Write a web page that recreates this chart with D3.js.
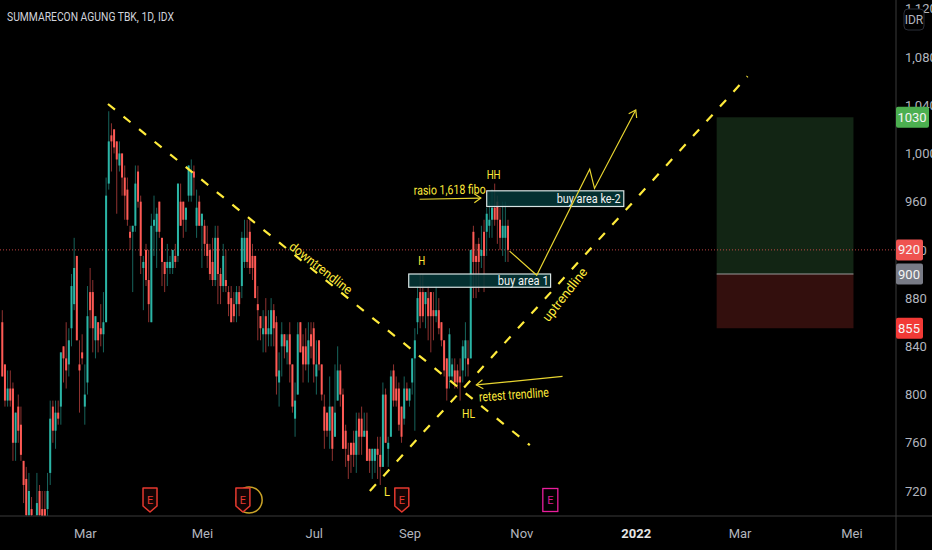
<!DOCTYPE html>
<html>
<head>
<meta charset="utf-8">
<script src="https://cdn.jsdelivr.net/npm/d3@7"></script>
<style>
  html, body { margin: 0; padding: 0; background: #000; }
  svg { display: block; }
  text { font-family: "Liberation Sans Narrow", "Roboto", sans-serif; }
</style>
</head>
<body>
<svg id="chart" width="932" height="550"></svg>
<script>
// daily candles (IDR)
const opens = [
  860,825,795,805,805,760,790,775,745,730, 700,705,690,700,720,705,705,705,735,790,
  770,785,790,840,830,825,855,875,915,825, 835,790,810,885,885,845,860,855,850,860,
  975,1015,1020,1010,990,1000,980,970,935,935, 940,985,960,905,920,895,860,940,935,960,
  930,910,905,905,905,915,915,960,960,945, 965,965,985,940,960,940,940,925,920,910,
  895,930,900,890,895,885,880,875,875,885, 890,910,930,935,915,915,875,865,850,865,
  850,850,870,860,810,840,850,835,850,825, 780,800,860,840,840,825,850,855,815,845,
  825,790,785,770,790,765,795,820,800,770, 750,760,760,750,780,780,765,770,755,745,
  745,755,750,740,800,755,765,820,805,805, 790,780,805,795,810,830,860,885,885,875,
  880,885,870,865,870,860,845,830,815,815, 820,820,815,820,830,830,830,935,915,925,
  915,935,935,940,945,955,960,945,930,930,940
];
const closes = [
  815,795,805,795,760,785,770,750,725,700, 720,700,685,710,700,695,695,720,780,770,
  785,780,835,830,820,845,890,905,845,820, 830,800,865,870,855,865,845,850,860,965,
  1010,1010,1005,995,1000,980,965,945,930,940, 975,960,915,910,895,875,940,945,950,935,
  910,900,910,910,920,910,975,940,945,955, 990,985,980,955,940,950,925,915,900,895,
  930,900,890,915,890,875,860,865,885,875, 930,930,910,905,905,880,870,855,855,850,
  855,870,855,815,820,850,840,845,825,790, 795,850,835,825,825,845,840,825,825,825,
  800,770,770,790,755,785,820,800,755,755, 745,750,750,770,765,765,770,745,745,755,
  755,750,740,800,760,760,815,795,795,775, 765,805,795,805,830,845,880,865,865,885,
  865,865,865,870,855,845,820,805,850,825, 810,810,810,840,845,825,920,910,910,910,
  920,915,950,945,955,945,945,930,940,940,920
];
const highs = [
  870,825,820,820,810,785,800,790,745,740, 735,715,695,735,725,720,720,735,795,795,
  795,795,835,840,860,855,900,930,915,845, 850,825,890,905,895,865,860,875,885,980,
  1035,1025,1020,1010,1010,1000,990,980,940,940, 990,990,965,915,925,920,950,965,955,960,
  930,910,925,915,920,925,975,975,960,955, 990,995,990,970,965,950,945,940,925,930,
  940,940,905,925,920,890,890,885,890,890, 935,945,945,945,925,915,890,865,870,880,
  870,880,875,865,835,860,850,850,860,825, 810,860,860,850,855,860,860,860,845,845,
  825,800,785,815,790,825,840,825,805,775, 760,760,770,785,785,790,785,785,755,755,
  755,765,765,810,805,765,820,825,815,810, 790,815,810,805,830,855,890,900,900,885,
  890,885,885,890,880,860,845,830,855,830, 830,825,830,845,860,845,920,940,925,930,
  940,945,955,960,970,975,965,955,960,960,945
];
const lows = [
  815,790,790,790,745,745,760,745,710,695, 695,695,680,690,690,690,690,695,725,760,
  755,775,775,810,805,815,840,870,845,785, 825,775,800,855,835,830,835,840,835,860,
  970,985,1000,950,985,965,945,940,920,885, 935,955,900,870,890,860,860,915,905,930,
  890,885,890,900,900,905,910,940,930,935, 960,960,965,930,940,905,915,905,895,890,
  890,875,875,885,885,865,860,860,860,865, 880,905,905,900,895,880,845,845,835,835,
  840,840,840,800,790,815,830,825,810,785, 765,800,835,810,820,810,830,810,800,820,
  795,755,765,755,745,765,795,790,755,740, 730,735,740,735,750,750,765,745,735,730,
  735,730,725,740,760,740,765,790,790,770, 760,775,795,790,800,770,850,855,860,855,
  845,835,845,860,850,840,815,795,805,810, 805,805,795,810,815,815,830,880,880,885,
  905,885,915,930,930,940,925,920,915,910,910
];

const priceTicks = [1120, 1080, 1040, 1000, 960, 920, 880, 840, 800, 760, 720];
const timeTickBars = [31, 75, 117, 153, 195, 238, 277, 319];
const timeTickLabels = ['Mar', 'Mei', 'Jul', 'Sep', 'Nov', '2022', 'Mar', 'Mei'];

const lastPrice = 920;
const entryPrice = 900;
const targetPrice = 1030;
const stopPrice = 855;

// drawings, as [bar, price]
const downtrend = [[39.7, 1041], [198.2, 758]];
const uptrend = [[138.1, 720], [280, 1064]];
const projection = [[190.6, 919], [200.8, 899], [220.7, 987], [222.5, 971], [238, 1036]];
const fiboArrow = [[156.8, 962], [179.8, 963]];
const retestArrow = [[210.5, 815], [178.1, 808]];
const positionBars = [268.4, 319.8];
const buyAreas = [
  { name: 'buy area 1', from: 152.7, to: 206, top: 900, bottom: 889, textBar: 195.7, textWidth: 51 },
  { name: 'buy area ke-2', from: 182, to: 233.5, top: 969, bottom: 956, textBar: 220.3, textWidth: 64 }
];
const notes = [
  { text: 'H', bar: 157.6, price: 911, angle: 0, width: 7 },
  { text: 'HH', bar: 184.6, price: 983, angle: 0, width: 14 },
  { text: 'HL', bar: 175.2, price: 784, angle: 0, width: 13 },
  { text: 'L', bar: 144.5, price: 720, angle: 0, width: 6 },
  { text: 'rasio 1,618 fibo', bar: 168.1, price: 970, angle: -1, width: 72 },
  { text: 'retest trendline', bar: 192.2, price: 800, angle: -4, width: 70 },
  { text: 'downtrendline', bar: 119.7, price: 905, angle: 38, width: 76 },
  { text: 'uptrendline', bar: 211.3, price: 883, angle: -52, width: 64 }
];
const earningsBars = [55.5, 90.4, 150.1];
const nextEarningsBar = 205.9;
const dividendBar = 92;

const WIDTH = 932, HEIGHT = 550;
const PANE_W = 896, PANE_H = 516;
const YELLOW = '#ffeb3b', TEAL = '#26a69a', RED = '#ef5350', AXIS = '#b2b5be';

const x = d3.scaleLinear().domain([0, 190]).range([2.3, 508]);
const y = d3.scaleLinear().domain([720, 1080]).range([491, 57]);

const svg = d3.select('#chart');
svg.append('rect').attr('width', WIDTH).attr('height', HEIGHT).attr('fill', '#000');
svg.append('defs').append('clipPath').attr('id', 'pane')
  .append('rect').attr('width', PANE_W).attr('height', PANE_H);

const pane = svg.append('g').attr('clip-path', 'url(#pane)');

// long position box
pane.append('rect')
  .attr('x', x(positionBars[0])).attr('width', x(positionBars[1]) - x(positionBars[0]))
  .attr('y', y(targetPrice)).attr('height', y(entryPrice) - y(targetPrice))
  .attr('fill', '#122514');
pane.append('rect')
  .attr('x', x(positionBars[0])).attr('width', x(positionBars[1]) - x(positionBars[0]))
  .attr('y', y(entryPrice)).attr('height', y(stopPrice) - y(entryPrice))
  .attr('fill', '#330f0d');
pane.append('line')
  .attr('x1', x(positionBars[0])).attr('x2', x(positionBars[1]))
  .attr('y1', y(entryPrice)).attr('y2', y(entryPrice))
  .attr('stroke', '#9a9a9a');

// last price line
pane.append('line')
  .attr('x1', 0).attr('x2', PANE_W)
  .attr('y1', y(lastPrice)).attr('y2', y(lastPrice))
  .attr('stroke', RED).attr('stroke-width', 0.8).attr('stroke-dasharray', '1 2');

// candles
const candles = pane.selectAll('.candle')
  .data(opens.map((o, i) => ({ i, o, c: closes[i], h: highs[i], l: lows[i] })))
  .enter().append('g')
    .attr('class', 'candle');
candles.append('line')
  .attr('x1', d => x(d.i)).attr('x2', d => x(d.i))
  .attr('y1', d => y(d.h)).attr('y2', d => y(d.l))
  .attr('stroke', d => d.c >= d.o ? TEAL : RED)
  .attr('stroke-opacity', 0.6);
candles.append('rect')
  .attr('x', d => x(d.i) - 1).attr('width', 2)
  .attr('y', d => y(Math.max(d.o, d.c)))
  .attr('height', d => Math.max(1, Math.abs(y(d.o) - y(d.c))))
  .attr('fill', d => d.c >= d.o ? '#2bb5a6' : '#ff5a55');

// buy areas
const areas = pane.selectAll('.area')
  .data(buyAreas)
  .enter().append('g')
    .attr('class', 'area');
areas.append('rect')
  .attr('x', d => x(d.from)).attr('width', d => x(d.to) - x(d.from))
  .attr('y', d => y(d.top)).attr('height', d => y(d.bottom) - y(d.top))
  .attr('fill', '#05383a').attr('fill-opacity', 0.85)
  .attr('stroke', '#d8e4e4').attr('stroke-width', 1.2);
areas.append('text')
  .attr('x', d => x(d.textBar)).attr('y', d => (y(d.top) + y(d.bottom)) / 2)
  .attr('dy', '0.35em').attr('text-anchor', 'middle')
  .attr('font-size', 13).attr('fill', '#f2f2f2')
  .attr('textLength', d => d.textWidth).attr('lengthAdjust', 'spacingAndGlyphs')
  .text(d => d.name);

// trend lines
const toLine = d3.line().x(d => x(d[0])).y(d => y(d[1]));
pane.selectAll('.trend')
  .data([downtrend, uptrend])
  .enter().append('path')
    .attr('class', 'trend')
    .attr('d', toLine)
    .attr('fill', 'none').attr('stroke', YELLOW)
    .attr('stroke-width', 2.2).attr('stroke-dasharray', '9 11');

// thin arrows
const drawArrow = pts => {
  pane.append('path').attr('d', toLine(pts))
    .attr('fill', 'none').attr('stroke', '#e8d530').attr('stroke-width', 1.2);
  const [a, b] = pts.slice(-2).map(p => [x(p[0]), y(p[1])]);
  const t = Math.atan2(b[1] - a[1], b[0] - a[0]);
  const head = s => [b[0] - 8 * Math.cos(t + s), b[1] - 8 * Math.sin(t + s)];
  pane.append('path').attr('d', d3.line()([head(0.6), b, head(-0.6)]))
    .attr('fill', 'none').attr('stroke', '#e8d530').attr('stroke-width', 1.2);
};
drawArrow(projection);
drawArrow(fiboArrow);
drawArrow(retestArrow);

// notes
pane.selectAll('.note')
  .data(notes)
  .enter().append('text')
    .attr('class', 'note')
    .attr('transform', d => `translate(${x(d.bar)} ${y(d.price)}) rotate(${d.angle})`)
    .attr('dy', '0.35em').attr('text-anchor', 'middle')
    .attr('font-size', 13).attr('fill', YELLOW)
    .attr('textLength', d => d.width).attr('lengthAdjust', 'spacingAndGlyphs')
    .text(d => d.text);

// earnings and dividend flags
pane.append('circle')
  .attr('cx', x(dividendBar) + 2).attr('cy', 500).attr('r', 13)
  .attr('fill', 'none').attr('stroke', '#c9a227').attr('stroke-width', 1.5);
const flags = pane.selectAll('.flag')
  .data(earningsBars)
  .enter().append('g')
    .attr('class', 'flag')
    .attr('transform', d => `translate(${x(d)} 500)`);
flags.append('path')
  .attr('d', 'M-7,-12H7V6L0,12L-7,6Z')
  .attr('fill', '#120404').attr('stroke', '#e5392f').attr('stroke-width', 1.5)
  .attr('stroke-linejoin', 'round');
flags.append('text')
  .attr('text-anchor', 'middle').attr('dy', '0.35em')
  .attr('font-size', 11).attr('fill', '#e5392f').text('E');
const nextFlag = pane.append('g').attr('transform', `translate(${x(nextEarningsBar)} 500)`);
nextFlag.append('rect')
  .attr('x', -7.5).attr('y', -11.5).attr('width', 15).attr('height', 23)
  .attr('fill', '#000').attr('stroke', '#e91e9c').attr('stroke-width', 1.3);
nextFlag.append('text')
  .attr('text-anchor', 'middle').attr('dy', '0.35em')
  .attr('font-size', 11).attr('fill', '#d81b8c').text('E');

// axes
const yAxis = d3.axisRight(y).tickValues(priceTicks).tickSize(0).tickPadding(9);
const xAxis = d3.axisBottom(x)
  .tickValues(timeTickBars)
  .tickFormat((d, i) => timeTickLabels[i])
  .tickSize(0).tickPadding(13);

const yGroup = svg.append('g').attr('transform', `translate(${PANE_W} 0)`).call(yAxis);
yGroup.select('.domain').remove();
yGroup.selectAll('text').attr('font-size', 13).attr('fill', AXIS);

const xGroup = svg.append('g').attr('transform', `translate(0 ${PANE_H})`).call(xAxis);
xGroup.select('.domain').remove();
xGroup.selectAll('text')
  .attr('font-size', 13)
  .attr('fill', d => d === 238 ? '#e6e6e6' : AXIS)
  .attr('font-weight', d => d === 238 ? 'bold' : 'normal');

svg.append('line').attr('x1', PANE_W).attr('x2', PANE_W).attr('y1', 0).attr('y2', HEIGHT)
  .attr('stroke', '#3a3a3a');
svg.append('line').attr('x1', 0).attr('x2', WIDTH).attr('y1', PANE_H).attr('y2', PANE_H)
  .attr('stroke', '#3a3a3a');

// price tags
const tags = [
  { price: targetPrice, fill: '#4caf50', w: 33 },
  { price: lastPrice, fill: '#ef5350', w: 27 },
  { price: entryPrice, fill: '#787b86', w: 27 },
  { price: stopPrice, fill: '#f23a36', w: 27 }
];
const tag = svg.selectAll('.tag')
  .data(tags)
  .enter().append('g')
    .attr('class', 'tag')
    .attr('transform', d => `translate(${PANE_W} ${y(d.price)})`);
tag.append('rect')
  .attr('y', -10.5).attr('width', d => d.w).attr('height', 21).attr('rx', 2)
  .attr('fill', d => d.fill);
tag.append('text')
  .attr('x', d => d.w / 2 - 0.5).attr('dy', '0.35em').attr('text-anchor', 'middle')
  .attr('font-size', 13).attr('fill', '#f5f5f5')
  .text(d => d.price);

// currency badge
svg.append('rect')
  .attr('x', 904).attr('y', 9).attr('width', 20).attr('height', 21).attr('rx', 4)
  .attr('fill', '#000').attr('stroke', '#2a2e39');
svg.append('text')
  .attr('x', 914).attr('y', 19.5).attr('dy', '0.35em').attr('text-anchor', 'middle')
  .attr('font-size', 12).attr('fill', AXIS).text('IDR');

// title
svg.append('text')
  .attr('x', 7).attr('y', 21)
  .attr('font-size', 13).attr('fill', '#d1d4dc')
  .attr('textLength', 167).attr('lengthAdjust', 'spacingAndGlyphs')
  .text('SUMMARECON AGUNG TBK, 1D, IDX');
</script>
</body>
</html>
